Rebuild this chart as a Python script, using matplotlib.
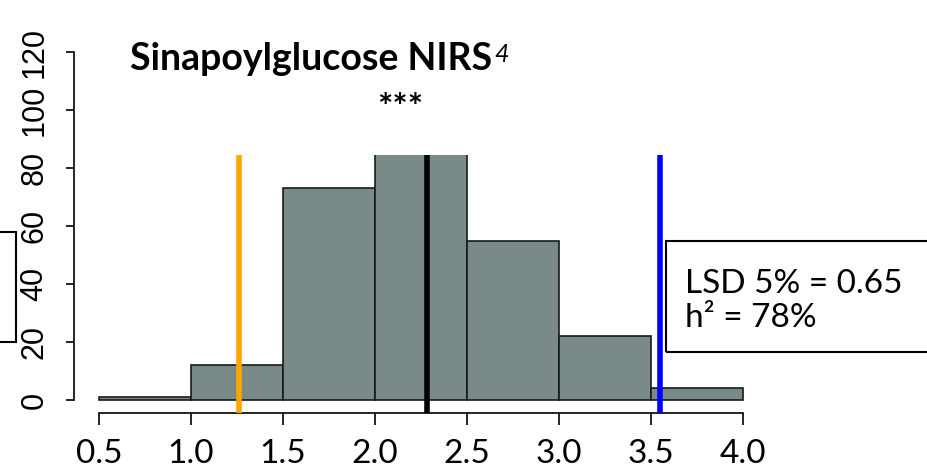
import matplotlib.pyplot as plt
from matplotlib.patches import Rectangle
import numpy as np

# histogram bins and counts
bin_edges = [0.5, 1.0, 1.5, 2.0, 2.5, 3.0, 3.5, 4.0]
counts = [1, 12, 73, 86, 55, 22, 4]

# reference lines (orange, mean black, blue)
line_x = [1.26, 2.28, 3.55]
line_colors = ['#FFA500', 'black', '#0000FF']

xticks = [0.5, 1.0, 1.5, 2.0, 2.5, 3.0, 3.5, 4.0]
yticks = [0, 20, 40, 60, 80, 100, 120]

W, H = 928, 476
fig = plt.figure(figsize=(W / 100, H / 100), dpi=100)
ax = fig.add_axes([99 / W, (H - 400) / H, (743 - 99) / W, (400 - 52) / H])

bars = ax.bar(bin_edges[:-1], counts, width=np.diff(bin_edges), align='edge',
              color='#798A88', edgecolor='#1a1a1a', linewidth=1.2, zorder=2)
# the top of the plot is cut off in the original figure
clip = Rectangle((0, -10), 5, 94.6, transform=ax.transData)
for b in bars:
    b.set_clip_path(clip)

for x, c in zip(line_x, line_colors):
    ax.plot([x, x], [-4.5, 84.6], color=c, linewidth=4, clip_on=False, zorder=3,
            solid_capstyle='butt')

ax.set_xlim(0.5, 4.0)
ax.set_ylim(0, 120)

for s in ['top', 'right']:
    ax.spines[s].set_visible(False)
ax.spines['left'].set_position(('outward', 18))
ax.spines['bottom'].set_position(('outward', 9.4))
ax.spines['left'].set_bounds(0, 120)
ax.spines['bottom'].set_bounds(0.5, 4.0)
ax.spines['left'].set_linewidth(1.2)
ax.spines['bottom'].set_linewidth(1.2)

ax.set_xticks(xticks)
ax.set_xticklabels(['%.1f' % v for v in xticks], family='Lato', fontsize=24)
ax.set_yticks(yticks)
ax.set_yticklabels([str(v) for v in yticks], family='Liberation Sans', fontsize=22,
                   rotation=90, va='center')
ax.tick_params(axis='x', length=8.6, width=1.2, pad=10)
ax.tick_params(axis='y', length=5.8, width=1.2, pad=12)

# title with italic superscript
t = fig.text(130 / W, 1 - 70 / H, 'Sinapoylglucose NIRS', family='Lato',
             fontweight='bold', fontsize=27, ha='left', va='baseline')
ax.annotate('4', xy=(1.0, 1.0), xycoords=t, xytext=(1.5, -1), textcoords='offset points',
            family='Lato', style='italic', fontsize=18, ha='left', va='top',
            annotation_clip=False)

fig.text(400 / W, 1 - 108 / H, '***', family='Lato', fontweight='bold',
         fontsize=26, ha='center', va='center')

# stats box (cut at the right edge)
fig.patches.append(Rectangle((666 / W, 1 - 352 / H), 300 / W, 111 / H,
                             transform=fig.transFigure, fill=False,
                             edgecolor='black', linewidth=1.5))
fig.text(685 / W, 1 - 293 / H, 'LSD 5% = 0.65', family='Lato', fontsize=24,
         ha='left', va='baseline')
fig.text(685 / W, 1 - 327 / H, 'h² = 78%', family='Lato', fontsize=24,
         ha='left', va='baseline')

# left box (from neighbouring panel)
fig.patches.append(Rectangle((-50 / W, 1 - 342 / H), 66 / W, 110 / H,
                             transform=fig.transFigure, fill=False,
                             edgecolor='black', linewidth=1.5))

fig.savefig('out.png', dpi=100)
